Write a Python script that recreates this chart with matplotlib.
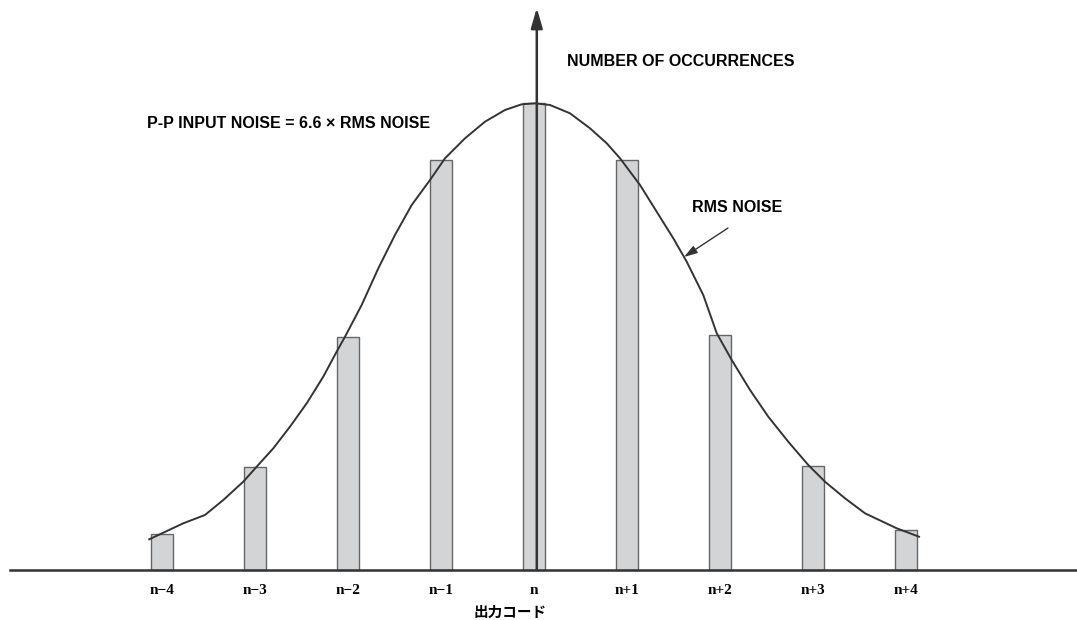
import matplotlib
matplotlib.use('Agg')
import matplotlib.pyplot as plt

# output codes and number of occurrences
codes = ['n\u22124', 'n\u22123', 'n\u22122', 'n\u22121', 'n', 'n+1', 'n+2', 'n+3', 'n+4']
offsets = [-4, -3, -2, -1, 0, 1, 2, 3, 4]
counts = [36, 103, 233, 410, 467, 410, 235, 104, 40]

# gaussian envelope
curve_x = [-4.137, -3.986, -3.771, -3.538, -3.341, -3.126, -2.982, -2.803,
           -2.624, -2.444, -2.266, -2.122, -2.032, -1.853, -1.674, -1.495,
           -1.315, -1.118, -0.957, -0.742, -0.527, -0.312, -0.132, 0.011,
           0.172, 0.387, 0.602, 0.782, 0.925, 1.140, 1.319, 1.498, 1.642,
           1.820, 1.965, 2.126, 2.323, 2.519, 2.734, 2.949, 3.129, 3.344,
           3.559, 3.900, 4.140]
curve_y = [30.7, 37.3, 46.7, 55.0, 70.0, 88.3, 103.3, 121.7,
           143.3, 166.7, 193.3, 218.3, 233.3, 265.0, 301.7, 335.0,
           365.0, 390.0, 411.7, 431.7, 448.3, 460.0, 465.7, 466.7,
           465.0, 456.7, 441.7, 426.7, 411.7, 385.0, 358.3, 331.7, 308.3,
           275.0, 236.7, 210.0, 180.0, 153.3, 128.3, 105.0, 88.3, 71.7,
           56.7, 41.7, 33.3]

W, H = 1077, 620
x0, dx = 534.0, 93.0   # pixel of code n, pixels per code
y0 = 570.0             # baseline pixel


def px(x, y):
    # pixel position -> data position
    return (x - x0) / dx, y0 - y


fig = plt.figure(figsize=(W / 100, H / 100), dpi=100)
ax = fig.add_axes([0, 0, 1, 1])
ax.set_xlim(-x0 / dx, (W - x0) / dx)
ax.set_ylim(y0 - H, y0)
ax.axis('off')

dark = '#333333'

ax.bar(offsets, counts, width=0.245, color='#d3d4d6', edgecolor='#666666',
       linewidth=1.0, zorder=2)

ax.plot(curve_x, curve_y, color=dark, linewidth=1.4, zorder=3,
        solid_joinstyle='round')

# horizontal axis
xa, _ = px(10, 0)
ax.plot([xa, (W - x0) / dx], [0, 0], color=dark, linewidth=1.8, zorder=4)

# vertical axis with arrow
ax.annotate('', xy=(0.03, y0 - 8), xytext=(0.03, 0),
            arrowprops=dict(arrowstyle='-|>,head_length=1.2,head_width=0.35',
                            color=dark, linewidth=1.8, shrinkA=0, shrinkB=0),
            zorder=5)

sans = ['Liberation Sans', 'DejaVu Sans']
serif = ['Liberation Serif', 'DejaVu Serif']

for k, lab in zip(offsets, codes):
    ax.text(k, px(0, 590)[1], lab, ha='center', va='center', fontsize=11,
            fontweight='bold', family=serif)

ax.text(*px(510, 612), '出力コード', ha='center', va='center', fontsize=10.5,
        fontweight='bold', family=['Noto Sans CJK JP', 'DejaVu Sans'])

ax.text(*px(567, 61), 'NUMBER OF OCCURRENCES', ha='left', va='center',
        fontsize=11.5, fontweight='bold', family=sans)
ax.text(*px(147, 124), 'P-P INPUT NOISE = 6.6 \u00d7 RMS NOISE', ha='left',
        va='center', fontsize=11.5, fontweight='bold', family=sans)
ax.text(*px(692, 208), 'RMS NOISE', ha='left', va='center', fontsize=11.5,
        fontweight='bold', family=sans)

ax.annotate('', xy=px(684, 257), xytext=px(728, 228),
            arrowprops=dict(arrowstyle='-|>,head_length=0.8,head_width=0.25',
                            color=dark, linewidth=1.0, shrinkA=0, shrinkB=0))

fig.savefig('out.png', dpi=100, facecolor='white')
